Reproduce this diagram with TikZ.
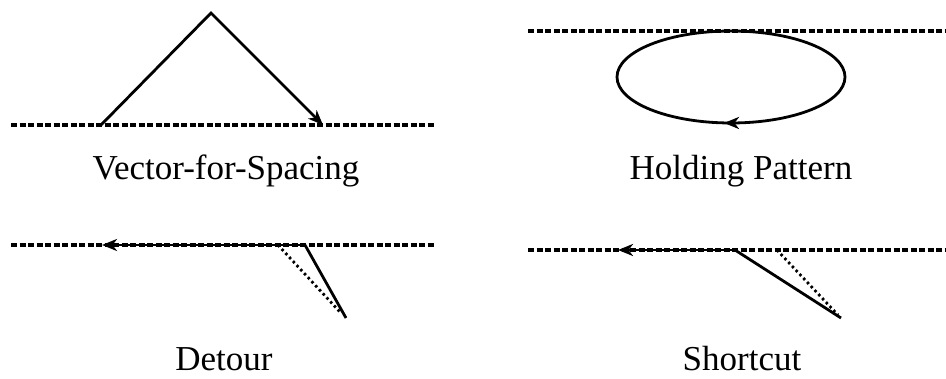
\documentclass[tikz,border=0pt]{standalone}
\usepackage{fontspec}
\setmainfont{Liberation Serif}
\usetikzlibrary{arrows.meta,shapes.geometric}
\begin{document}
\begin{tikzpicture}[x=1pt,y=-1pt,
  refline/.style={line width=3.4pt, dash pattern=on 6pt off 2.5pt},
  pathline/.style={line width=2.8pt},
  dotline/.style={line width=2.8pt, dash pattern=on 2.5pt off 3pt},
  tip/.style={-{Stealth[length=15pt,width=12pt,inset=4.5pt]}},
  lbl/.style={font=\fontsize{35}{40}\selectfont, anchor=base, inner sep=0pt}]
\useasboundingbox (0,0) rectangle (946,379);
% Vector-for-Spacing
\coordinate (a1) at (11,125); \coordinate (a2) at (435,125);
\coordinate (v0) at (101,125); \coordinate (v1) at (211,13); \coordinate (v2) at (323,125);
\draw[refline] (a1) -- (a2);
\draw[pathline,tip,line join=miter] (v0) -- (v1) -- (v2);
\node[lbl] (l1) at (226,180) {Vector-for-Spacing};
% Holding pattern
\coordinate (b1) at (528,31); \coordinate (b2) at (946,31);
\draw[refline] (b1) -- (b2);
\node[draw, ellipse, line width=2.8pt, minimum width=228pt, minimum height=92pt, inner sep=0pt] (hp) at (731,77) {};
\coordinate (h1) at (740,123); \coordinate (h2) at (724,123);
\draw[pathline,tip] (h1) -- (h2);
\node[lbl] (l2) at (741,180) {Holding Pattern};
% Detour
\coordinate (c1) at (11,245); \coordinate (c2) at (435,245);
\coordinate (d0) at (305,245); \coordinate (d1) at (102,245);
\coordinate (d2) at (346,318); \coordinate (d3) at (278,245); \coordinate (d4) at (340,312);
\draw[refline] (c1) -- (c2);
\draw[pathline,tip] (d0) -- (d1);
\draw[pathline] (d0) -- (d2);
\draw[dotline] (d3) -- (d4);
\node[lbl] (l3) at (224,371) {Detour};
% Shortcut
\coordinate (e1) at (528,250); \coordinate (e2) at (946,250);
\coordinate (s0) at (735,250); \coordinate (s1) at (618,250);
\coordinate (s2) at (841,318); \coordinate (s3) at (777,250); \coordinate (s4) at (838,315);
\draw[refline] (e1) -- (e2);
\draw[pathline,tip] (s0) -- (s1);
\draw[pathline] (s0) -- (s2);
\draw[dotline] (s3) -- (s4);
\node[lbl] (l4) at (742,371) {Shortcut};
\end{tikzpicture}
\end{document}
